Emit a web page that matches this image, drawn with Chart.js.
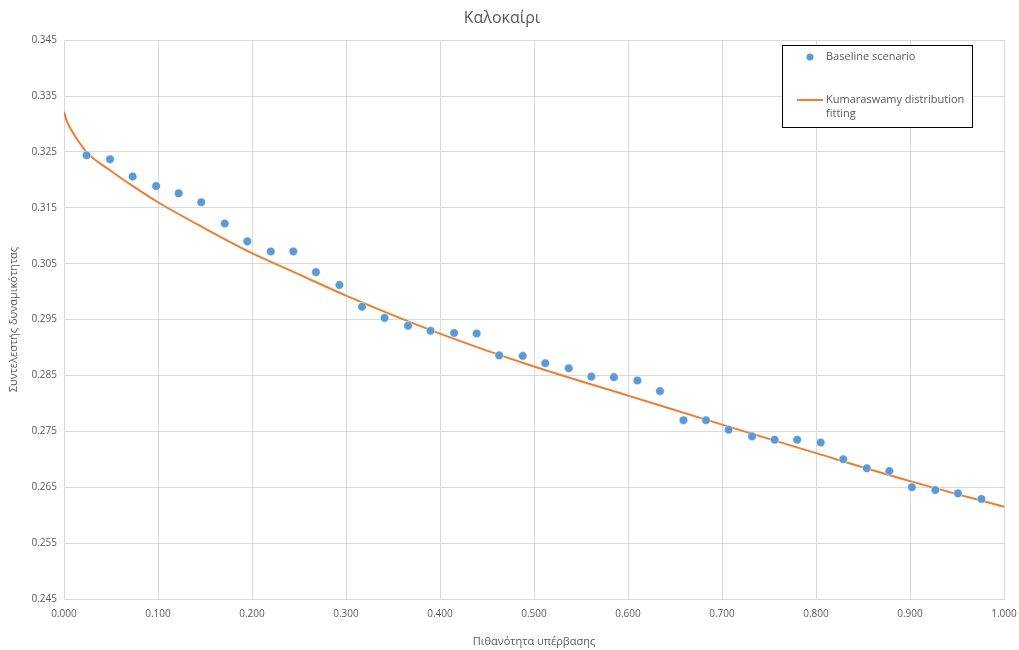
<!DOCTYPE html>
<html>
<head>
<meta charset="utf-8">
<script src="https://cdn.jsdelivr.net/npm/chart.js@4"></script>
<style>
	body { margin: 0; background: #fff; }
	#wrap { width: 1019px; height: 650px; }
</style>
</head>
<body>
<div id="wrap"><canvas id="myChart" width="1019" height="650"></canvas></div>
<script>
// exceedance probability of each point
var probX = [0.024, 0.049, 0.073, 0.098, 0.122, 0.146, 0.171, 0.195, 0.220, 0.244,
	0.268, 0.293, 0.317, 0.341, 0.366, 0.390, 0.415, 0.439, 0.463, 0.488,
	0.512, 0.537, 0.561, 0.585, 0.610, 0.634, 0.659, 0.683, 0.707, 0.732,
	0.756, 0.780, 0.805, 0.829, 0.854, 0.878, 0.902, 0.927, 0.951, 0.976];
// capacity factor, baseline scenario
var baseline = [0.3244, 0.3237, 0.3206, 0.3189, 0.3176, 0.3160, 0.3122, 0.3090, 0.3072, 0.3072,
	0.3035, 0.3012, 0.2973, 0.2953, 0.2939, 0.2930, 0.2926, 0.2925, 0.2886, 0.2885,
	0.2872, 0.2863, 0.2848, 0.2847, 0.2841, 0.2822, 0.2770, 0.2770, 0.2753, 0.2741,
	0.2735, 0.2735, 0.2730, 0.2700, 0.2684, 0.2679, 0.2650, 0.2645, 0.2639, 0.2629];
// fitted curve
var fitX = [0, 0.003, 0.008, 0.015, 0.025, 0.05, 0.075, 0.1, 0.15, 0.2, 0.25, 0.3, 0.4, 0.5, 0.6, 0.7, 0.8, 0.9, 1.0];
var fitY = [0.3322, 0.3305, 0.3289, 0.3270, 0.3248, 0.3216, 0.3187, 0.3160, 0.3113, 0.3069, 0.3031, 0.2993, 0.2925, 0.2866, 0.2814, 0.2762, 0.2711, 0.2661, 0.2615];

var seriesNames = ["Baseline scenario", "Kumaraswamy distribution fitting"];
var chartTitle = "Καλοκαίρι";
var xTitle = "Πιθανότητα υπέρβασης";
var yTitle = "Συντελεστής δυναμικότητας";

var blue = "#5b9bd5";
var orange = "#ed7d31";
var textColor = "#595959";
var gridColor = "#d9d9d9";
var fontName = "'Open Sans', sans-serif";

var pts = probX.map(function (x, i) { return { x: x, y: baseline[i] }; });
var fit = fitX.map(function (x, i) { return { x: x, y: fitY[i] }; });

// legend box drawn inside the plot, top right
var boxLegend = {
	id: "boxLegend",
	afterDraw: function (chart) {
		var c = chart.ctx;
		var ds = chart.data.datasets;
		c.save();
		c.fillStyle = "#fff";
		c.fillRect(782, 45, 190, 82);
		c.strokeStyle = "#000";
		c.lineWidth = 1;
		c.strokeRect(782.5, 45.5, 190, 82);
		c.font = "11px " + fontName;
		c.fillStyle = textColor;
		c.textBaseline = "middle";
		// dot entry
		c.beginPath();
		c.arc(810, 57, 3.5, 0, Math.PI * 2);
		c.fillStyle = ds[0].backgroundColor;
		c.fill();
		c.fillStyle = textColor;
		c.fillText(ds[0].label, 826, 57);
		// line entry
		c.strokeStyle = ds[1].borderColor;
		c.lineWidth = 2;
		c.beginPath();
		c.moveTo(797, 100);
		c.lineTo(823, 100);
		c.stroke();
		c.fillText("Kumaraswamy distribution", 826, 100);
		c.fillText("fitting", 826, 114);
		c.restore();
	},
};

var ctx = document.getElementById("myChart").getContext("2d");
var myChart = new Chart(ctx, {
	type: "scatter",
	data: {
		datasets: [
			{
				label: seriesNames[0],
				data: pts,
				backgroundColor: blue,
				borderColor: "#fff",
				borderWidth: 0.5,
				pointRadius: 4.3,
				order: 1,
			},
			{
				label: seriesNames[1],
				data: fit,
				type: "line",
				showLine: true,
				borderColor: orange,
				backgroundColor: orange,
				borderWidth: 2,
				pointRadius: 0,
				cubicInterpolationMode: "monotone",
				order: 2,
			},
		],
	},
	options: {
		responsive: false,
		animation: false,
		layout: { padding: { left: 0, right: 15, top: 0, bottom: 0 } },
		plugins: {
			legend: { display: false },
			tooltip: { enabled: false },
			title: {
				display: true,
				text: chartTitle,
				color: textColor,
				font: { family: fontName, size: 16, weight: "normal" },
				padding: { top: 9, bottom: 12 },
			},
		},
		scales: {
			x: {
				type: "linear",
				min: 0,
				max: 1,
				afterFit: function (s) {
					s.height = 51;
					s.paddingLeft = 0;
					s.paddingRight = 0;
				},
				grid: { color: gridColor, drawTicks: false },
				border: { color: gridColor },
				ticks: {
					stepSize: 0.1,
					padding: 9,
					color: textColor,
					font: { family: fontName, size: 10 },
					maxRotation: 0,
					callback: function (v) { return v.toFixed(3); },
				},
				title: {
					display: true,
					text: xTitle,
					color: textColor,
					font: { family: fontName, size: 11 },
					padding: { top: 4, bottom: 2 },
				},
			},
			y: {
				min: 0.245,
				max: 0.345,
				afterFit: function (s) { s.width = 64; },
				grid: { color: gridColor, drawTicks: false },
				border: { color: gridColor },
				ticks: {
					stepSize: 0.01,
					padding: 7,
					color: textColor,
					font: { family: fontName, size: 10 },
					callback: function (v) { return v.toFixed(3); },
				},
				title: {
					display: true,
					text: yTitle,
					color: textColor,
					font: { family: fontName, size: 11 },
					padding: { top: 7, bottom: 0 },
				},
			},
		},
	},
	plugins: [boxLegend],
});
</script>
</body>
</html>
